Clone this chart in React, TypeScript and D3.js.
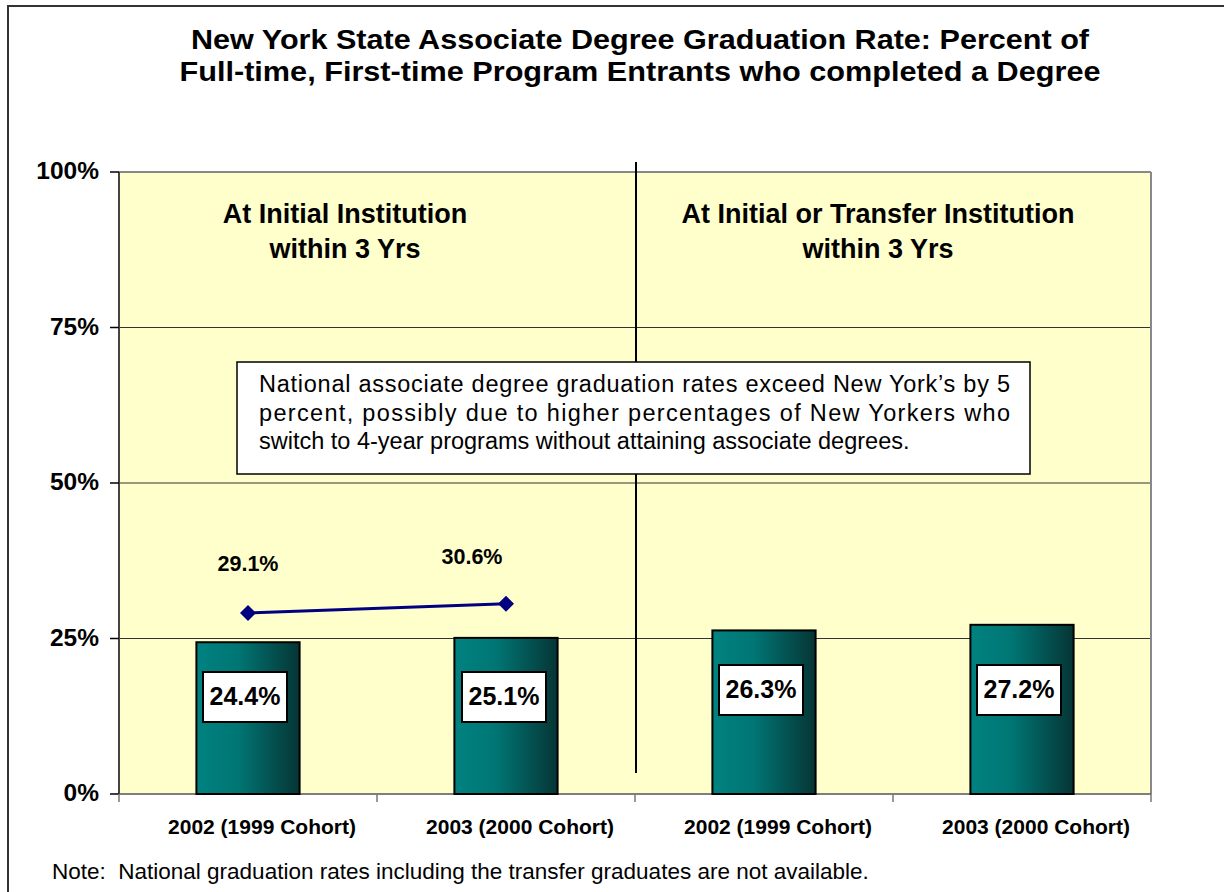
import React from "react";
import * as d3 from "d3";

const categories = ["2002 (1999 Cohort)", "2003 (2000 Cohort)", "2002 (1999 Cohort) ", "2003 (2000 Cohort) "];
const nyRates = [24.4, 25.1, 26.3, 27.2];
const nationalRates = [29.1, 30.6];
const yTicks = [0, 25, 50, 75, 100];
const sectionTitles = [
  ["At Initial Institution", "within 3 Yrs"],
  ["At Initial or Transfer Institution", "within 3 Yrs"],
];
const titleLines = [
  "New York State Associate Degree Graduation Rate: Percent of",
  "Full-time, First-time Program Entrants who completed a Degree",
];
const noteLines = [
  "National associate degree graduation rates exceed New York\u2019s by 5",
  "percent, possibly due to higher percentages of New Yorkers who",
  "switch to 4-year programs without attaining associate degrees.",
];
const footNote = "Note:\u00a0 National graduation rates including the transfer graduates are not available.";

const W = 1224;
const H = 892;
const L = 119, T = 172, R = 1151, B = 794;

export default function App() {
  const x = d3.scaleBand<string>().domain(categories).range([L, R]).paddingInner(0).paddingOuter(0);
  const y = d3.scaleLinear().domain([0, 100]).range([B, T]);
  const bw = x.bandwidth();
  const barW = bw * 0.4;
  const cx = (i: number) => (x(categories[i]) as number) + bw / 2;
  const font = "'Liberation Sans', Arial, sans-serif";
  const line = d3.line<number>().x((_, i) => cx(i)).y((d) => y(d));
  const labelOffsets = [[0, -48], [-34, -45]];
  const boxDx = [-3, -2, -3, -3];
  const boxY = [697, 697, 690, 690];
  const titleWidths = [898, 921];

  return (
    <svg width={W} height={H} style={{ position: "absolute", left: 0, top: 0, background: "#fff" }} fontFamily={font}>
      <defs>
        <linearGradient id="barGrad" x1="0" x2="1" y1="0" y2="0">
          <stop offset="0" stopColor="#008280" />
          <stop offset="0.4" stopColor="#007674" />
          <stop offset="1" stopColor="#063535" />
        </linearGradient>
      </defs>
      <rect x={8} y={6} width={W + 20} height={H + 20} fill="#fff" stroke="#333" strokeWidth={2} />
      {titleLines.map((t, i) => (
        <text key={i} x={640} y={42 + i * 32} textAnchor="middle" fontSize={28} fontWeight="bold" dominantBaseline="middle" textLength={titleWidths[i]} lengthAdjust="spacingAndGlyphs">{t}</text>
      ))}
      <rect x={L} y={T} width={R - L} height={B - T} fill="#FFFFCC" />
      {yTicks.filter((t) => t > 0 && t < 100).map((t) => (
        <line key={t} x1={L} x2={R} y1={y(t)} y2={y(t)} stroke="#333" strokeWidth={1} />
      ))}
      <line x1={L} x2={R} y1={T} y2={T} stroke="#888" strokeWidth={2} />
      <line x1={R} x2={R} y1={T} y2={B} stroke="#888" strokeWidth={2} />
      <line x1={L} x2={L} y1={T} y2={B} stroke="#444" strokeWidth={2} />
      <line x1={L} x2={R} y1={B} y2={B} stroke="#555" strokeWidth={1.5} />
      {yTicks.map((t) => (
        <g key={t}>
          <line x1={L - 9} x2={L} y1={y(t)} y2={y(t)} stroke="#000" strokeWidth={1.5} />
          <text x={L - 20} y={y(t) + 1} textAnchor="end" dominantBaseline="middle" fontSize={24.5} fontWeight="bold">{t}%</text>
        </g>
      ))}
      {d3.range(categories.length + 1).map((i) => (
        <line key={i} x1={L + i * bw} x2={L + i * bw} y1={B} y2={B + 8} stroke="#777" strokeWidth={1.5} />
      ))}
      {categories.map((c, i) => (
        <text key={i} x={cx(i) + 14} y={828} textAnchor="middle" dominantBaseline="middle" fontSize={21} fontWeight="bold">{c.trim()}</text>
      ))}
      <line x1={636} x2={636} y1={162} y2={773} stroke="#000" strokeWidth={2} />
      {sectionTitles.map((lines, s) => (
        lines.map((t, j) => (
          <text key={s + "-" + j} x={s === 0 ? 345 : 878} y={216 + j * 35} textAnchor="middle" dominantBaseline="middle" fontSize={27} fontWeight="bold">{t}</text>
        ))
      ))}
      {nyRates.map((v, i) => (
        <rect key={i} x={cx(i) - barW / 2} y={y(v)} width={barW} height={B - y(v)} fill="url(#barGrad)" stroke="#000" strokeWidth={2} />
      ))}
      {nyRates.map((v, i) => (
        <g key={i}>
          <rect x={cx(i) + boxDx[i] - 42} y={boxY[i] - 25} width={84} height={50} fill="#fff" stroke="#000" strokeWidth={2} />
          <text x={cx(i) + boxDx[i]} y={boxY[i] + 1} textAnchor="middle" dominantBaseline="middle" fontSize={25} fontWeight="bold">{v.toFixed(1)}%</text>
        </g>
      ))}
      <rect x={237} y={362} width={793} height={112} fill="#fff" stroke="#000" strokeWidth={1.5} />
      {noteLines.map((t, i) => (
        <text key={i} x={259} y={386 + i * 28.5} fontSize={23.5} dominantBaseline="middle" textLength={i < 2 ? 751 : undefined} lengthAdjust="spacing">{t}</text>
      ))}
      <path d={line(nationalRates) || ""} fill="none" stroke="#000080" strokeWidth={3} />
      {nationalRates.map((v, i) => (
        <g key={i}>
          <path d={d3.symbol().type(d3.symbolSquare).size(128)() || ""} transform={`translate(${cx(i)},${y(v)}) rotate(45)`} fill="#000080" />
          <text x={cx(i) + labelOffsets[i][0]} y={y(v) + labelOffsets[i][1]} textAnchor="middle" dominantBaseline="middle" fontSize={21.5} fontWeight="bold">{v.toFixed(1)}%</text>
        </g>
      ))}
      <text x={52} y={873} fontSize={22.5} dominantBaseline="middle">{footNote}</text>
    </svg>
  );
}
